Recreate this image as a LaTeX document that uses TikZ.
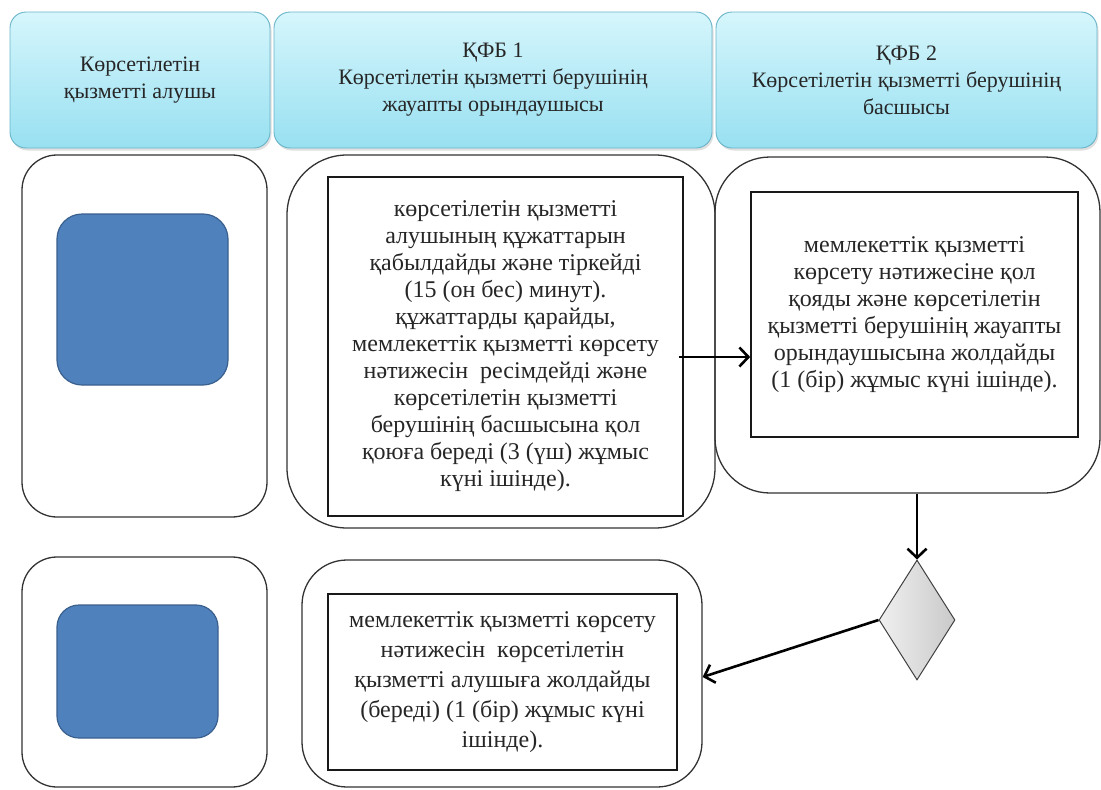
\documentclass[tikz,border=0pt]{standalone}
\usepackage{fontspec}
\setmainfont{Liberation Serif}
\usepackage{xcolor}
\usetikzlibrary{shapes.geometric}
\usetikzlibrary{shadows}
\usetikzlibrary{arrows.meta}

\definecolor{headtop}{RGB}{214,246,252}
\definecolor{headbot}{RGB}{152,224,241}
\definecolor{headline}{RGB}{105,180,200}
\definecolor{actblue}{RGB}{79,129,189}
\definecolor{actline}{RGB}{58,96,142}

\begin{document}
\begin{tikzpicture}[x=1pt,y=-1pt,
  font=\fontsize{22}{27}\selectfont,
  head/.style={draw=headline, line width=0.9pt, top color=headtop, bottom color=headbot,
    rounded corners=16pt, align=center, inner sep=0pt, text=black!85,
    drop shadow={shadow xshift=1.5pt, shadow yshift=-2.5pt, opacity=.25}},
  lane/.style={draw=black!80, line width=1.3pt, rounded corners=#1, inner sep=0pt},
  lane/.default=35pt,
  actor/.style={draw=actline, line width=1.2pt, fill=actblue, rounded corners=#1, inner sep=0pt},
  act/.style={draw=black!90, line width=1.6pt, fill=white, align=center, inner sep=0pt,
    text=black!85, font=\fontsize{24}{27}\selectfont},
  gate/.style={diamond, draw=black!75, line width=1pt, left color=gray!12, right color=gray!42,
    inner sep=0pt, minimum width=76pt, minimum height=120pt},
  arr/.style={line width=2.6pt, -{Straight Barb[length=9pt,width=19pt]}},
]
  \useasboundingbox (0,0) rectangle (1101,790);

  \node[head, minimum width=260pt, minimum height=136pt] (h1) at (140,80)
    {Көрсетілетін\\ қызметті алушы};
  \node[head, minimum width=438pt, minimum height=136pt] (h2) at (493,80)
    {ҚФБ 1\\ Көрсетілетін қызметті берушінің\\ жауапты орындаушысы};
  \node[head, minimum width=381pt, minimum height=136pt] (h3) at (906.5,80)
    {ҚФБ 2\\ Көрсетілетін қызметті берушінің\\ басшысы};

  \node[lane, minimum width=245pt, minimum height=362pt] (l1a) at (144.5,336) {};
  \node[lane=60pt, minimum width=428pt, minimum height=373pt] (l2a) at (501,341.5) {};
  \node[lane=55pt, minimum width=385pt, minimum height=336pt] (l3a) at (907.5,325) {};
  \node[lane, minimum width=245pt, minimum height=230pt] (l1b) at (144.5,672) {};
  \node[lane=45pt, minimum width=400pt, minimum height=227pt] (l2b) at (502,673.5) {};

  \node[actor=25pt, minimum width=171pt, minimum height=171pt] (u1) at (142.5,299.5) {};
  \node[actor=22pt, minimum width=161pt, minimum height=133pt] (u2) at (137.5,671.5) {};

  \node[act, minimum width=355pt, minimum height=339pt] (a1) at (505.5,346.5)
    {көрсетілетін қызметті\\ алушының құжаттарын\\ қабылдайды және тіркейді\\
     (15 (он бес) минут).\\ құжаттарды қарайды,\\ мемлекеттік қызметті көрсету\\
     нәтижесін~ ресімдейді және\\ көрсетілетін қызметті\\ берушінің басшысына қол\\
     қоюға береді (3 (үш) жұмыс\\ күні ішінде).};
  \node[act, minimum width=327pt, minimum height=245pt] (a2) at (914.5,314.5)
    {мемлекеттік қызметті\\ көрсету нәтижесіне қол\\ қояды және көрсетілетін\\
     қызметті берушінің жауапты\\ орындаушысына жолдайды\\ (1 (бір) жұмыс күні ішінде).};
  \node[act, minimum width=349pt, minimum height=176pt,
    font=\fontsize{24}{30}\selectfont] (a3) at (502.5,682)
    {мемлекеттік қызметті көрсету\\ нәтижесін~ көрсетілетін\\ қызметті алушыға жолдайды\\
     (береді) (1 (бір) жұмыс күні\\ ішінде).};

  \node[gate] (dia) at (917,620) {};

  \coordinate (m1) at (0,357);
  \draw[arr] ([xshift=-5pt]a1.east |- m1) -- (a2.west |- m1);
  \draw[arr] (dia.north |- l3a.south) -- (dia.north);
  \draw[arr] (dia.west) -- ([yshift=-3.5pt]l2b.east);

\end{tikzpicture}
\end{document}
